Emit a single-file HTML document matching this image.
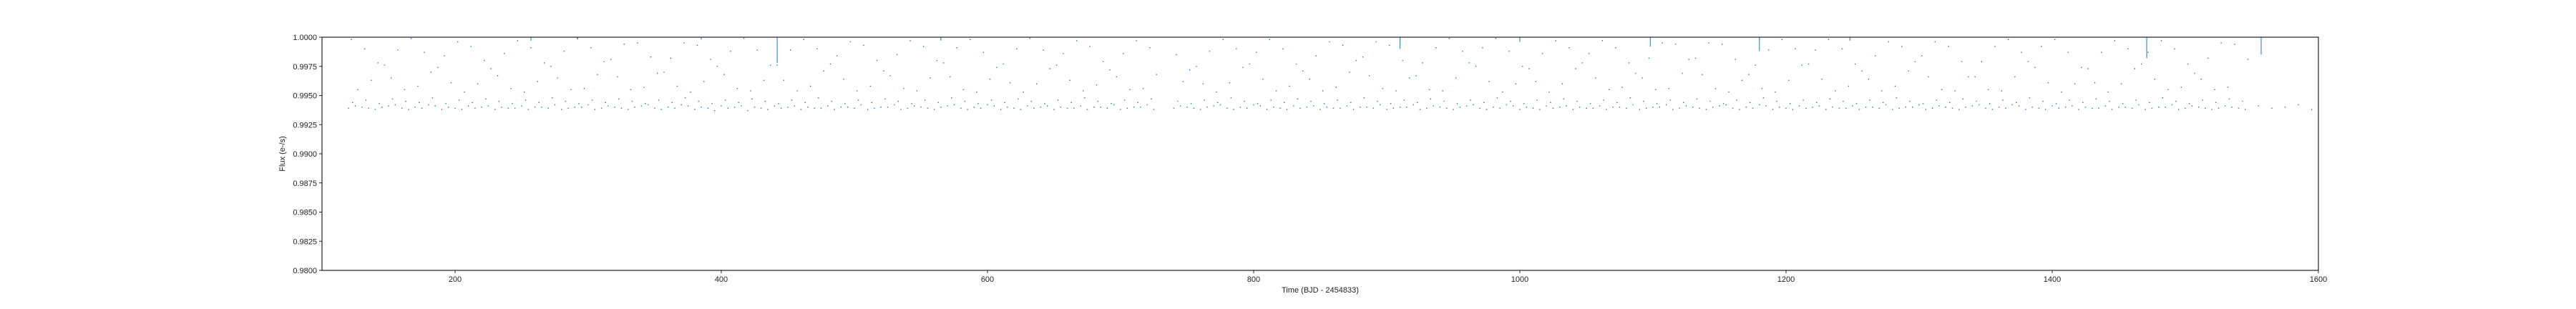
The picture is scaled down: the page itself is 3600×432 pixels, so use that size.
<!DOCTYPE html>
<html><head><meta charset="utf-8">
<style>
html,body{margin:0;padding:0;background:#fff;}
svg{display:block;font-family:"Liberation Sans","DejaVu Sans",sans-serif;}
</style></head>
<body>
<svg id="chart" width="3600" height="432" viewBox="0 0 3600 432" xmlns="http://www.w3.org/2000/svg">
<rect x="0" y="0" width="3600" height="432" fill="#fff"/>
<g id="plot"></g>
<g id="axes"></g>
</svg>
<script>
const xTicks=[200,400,600,800,1000,1200,1400,1600];
const yTicks=[0.98,0.9825,0.985,0.9875,0.99,0.9925,0.995,0.9975,1.0];
const yTickLabels=["0.9800","0.9825","0.9850","0.9875","0.9900","0.9925","0.9950","0.9975","1.0000"];
const times=[120,130,140,150,160,170,180,190,200,210,220,230,240,250,260,270,280,290,300,310,320,330,340,350,360,370,380,390,400,410,420,430,440,450,460,470,480,490,500,510,520,530,540,550,560,570,580,590,600,610,620,630,640,650,660,670,680,690,700,710,720,
740,750,760,770,780,790,800,810,820,830,840,850,860,870,880,890,900,910,920,930,940,950,960,970,980,990,1000,1010,1020,1030,1040,1050,1060,1070,1080,1090,1100,1110,1120,1130,1140,1150,1160,1170,1180,1190,1200,1210,1220,1230,1240,1250,1260,1270,1280,1290,1300,1310,1320,1330,1340,1350,1360,1370,1380,1390,1400,1410,1420,1430,1440,1450,1460,1470,1480,1490,1500,1510,1520,1530,1540,1550,1560,1570,1580,1590];
const bandA=[0.9939,0.9940,0.9938,0.9941,0.9939,0.9940,0.9942,0.9938,0.9939,0.9941,0.9940,0.9938,0.9939,0.9941,0.9940,0.9939,0.9938,0.9940,0.9942,0.9939,0.9940,0.9938,0.9941,0.9939,0.9940,0.9942,0.9938,0.9939,0.9941,0.9940,0.9937,0.9939,0.9941,0.9940,0.9938,0.9939,0.9941,0.9940,0.9939,0.9938,0.9940,0.9942,0.9939,0.9940,0.9938,0.9941,0.9939,0.9940,0.9942,0.9938,0.9939,0.9941,0.9940,0.9938,0.9939,0.9941,0.9940,0.9939,0.9938,0.9940,0.9942,
0.9939,0.9940,0.9938,0.9941,0.9939,0.9940,0.9942,0.9938,0.9939,0.9941,0.9940,0.9938,0.9939,0.9941,0.9940,0.9939,0.9938,0.9940,0.9942,0.9939,0.9940,0.9938,0.9941,0.9939,0.9940,0.9942,0.9938,0.9939,0.9941,0.9940,0.9938,0.9939,0.9941,0.9940,0.9939,0.9938,0.9940,0.9942,0.9939,0.9940,0.9938,0.9941,0.9939,0.9940,0.9942,0.9938,0.9939,0.9941,0.9940,0.9938,0.9939,0.9941,0.9940,0.9939,0.9938,0.9940,0.9942,0.9939,0.9940,0.9938,0.9941,0.9939,0.9940,0.9942,0.9938,0.9939,0.9941,0.9940,0.9938,0.9939,0.9941,0.9940,0.9939,0.9938,0.9940,0.9942,0.9939,0.9940,0.9938,0.9941,0.9939];
const bandB=[0.9944,0.9946,0.9943,0.9947,0.9945,0.9944,0.9948,0.9943,0.9946,0.9944,0.9947,0.9945,0.9943,0.9946,0.9944,0.9948,0.9945,0.9943,0.9946,0.9944,0.9947,0.9945,0.9943,0.9946,0.9944,0.9948,0.9945,0.9943,0.9946,0.9944,0.9947,0.9945,0.9943,0.9946,0.9944,0.9948,0.9945,0.9943,0.9946,0.9944,0.9947,0.9945,0.9943,0.9946,0.9944,0.9948,0.9945,0.9943,0.9946,0.9944,0.9947,0.9945,0.9943,0.9946,0.9944,0.9948,0.9945,0.9943,0.9946,0.9944,0.9947,
0.9945,0.9943,0.9946,0.9944,0.9948,0.9945,0.9943,0.9946,0.9944,0.9947,0.9945,0.9943,0.9946,0.9944,0.9948,0.9945,0.9943,0.9946,0.9944,0.9947,0.9945,0.9943,0.9946,0.9944,0.9948,0.9945,0.9943,0.9946,0.9944,0.9947,0.9945,0.9943,0.9946,0.9944,0.9948,0.9945,0.9943,0.9946,0.9944,0.9947,0.9945,0.9943,0.9946,0.9944,0.9948,0.9945,0.9943,0.9946,0.9944,0.9947,0.9945,0.9943,0.9946,0.9944,0.9948,0.9945,0.9943,0.9946,0.9944,0.9947,0.9945,0.9943,0.9946,0.9944,0.9948,0.9945,0.9943,0.9946,0.9944,0.9947,0.9945,0.9943,0.9946,0.9944,0.9948,0.9945,0.9943,0.9946,0.9944,0.9947,0.9945];
const arcA=[0.9998,0.9990,0.9978,0.9965,0.9955,0.9958,0.9970,0.9984,0.9996,0.9992,0.9980,0.9967,0.9956,0.9953,0.9962,0.9975,0.9988,0.9999,0.9991,0.9979,0.9966,0.9955,0.9957,0.9969,0.9982,0.9995,0.9993,0.9981,0.9968,0.9956,0.9954,0.9963,0.9976,0.9989,0.9998,0.9990,0.9977,0.9964,0.9954,0.9958,0.9971,0.9985,0.9997,0.9992,0.9980,0.9966,0.9955,0.9953,0.9964,0.9977,0.9990,0.9999,0.9989,0.9976,0.9963,0.9954,0.9959,0.9972,0.9986,0.9997,0.9991,
0.9985,0.9972,0.9960,0.9953,0.9961,0.9974,0.9987,0.9998,0.9990,0.9977,0.9964,0.9954,0.9957,0.9970,0.9983,0.9996,0.9993,0.9980,0.9967,0.9955,0.9954,0.9965,0.9978,0.9991,0.9999,0.9988,0.9975,0.9962,0.9953,0.9960,0.9973,0.9986,0.9997,0.9991,0.9978,0.9965,0.9955,0.9956,0.9969,0.9982,0.9995,0.9994,0.9981,0.9968,0.9956,0.9953,0.9963,0.9976,0.9989,0.9998,0.9990,0.9977,0.9964,0.9954,0.9958,0.9971,0.9984,0.9996,0.9992,0.9979,0.9966,0.9955,0.9954,0.9966,0.9979,0.9992,0.9998,0.9987,0.9974,0.9961,0.9953,0.9960,0.9973,0.9987,0.9997,0.9990,0.9977,0.9964,0.9955,0.9957];
const arcB=[0.9955,0.9963,0.9976,0.9989,0.9999,0.9987,0.9974,0.9961,0.9953,0.9960,0.9973,0.9986,0.9997,0.9991,0.9978,0.9965,0.9955,0.9956,0.9968,0.9981,0.9994,0.9995,0.9983,0.9970,0.9958,0.9953,0.9962,0.9975,0.9988,0.9999,0.9989,0.9976,0.9963,0.9954,0.9958,0.9971,0.9984,0.9996,0.9993,0.9980,0.9967,0.9956,0.9954,0.9965,0.9978,0.9991,0.9998,0.9987,0.9974,0.9961,0.9953,0.9960,0.9973,0.9986,0.9997,0.9992,0.9979,0.9966,0.9955,0.9956,0.9968,
0.9962,0.9975,0.9988,0.9998,0.9990,0.9977,0.9964,0.9954,0.9958,0.9971,0.9984,0.9996,0.9993,0.9980,0.9967,0.9956,0.9954,0.9965,0.9978,0.9991,0.9999,0.9988,0.9975,0.9962,0.9953,0.9960,0.9973,0.9986,0.9997,0.9991,0.9978,0.9965,0.9955,0.9957,0.9969,0.9982,0.9995,0.9994,0.9981,0.9968,0.9956,0.9953,0.9963,0.9976,0.9989,0.9998,0.9990,0.9977,0.9964,0.9954,0.9958,0.9971,0.9984,0.9996,0.9992,0.9979,0.9966,0.9955,0.9954,0.9966,0.9979,0.9992,0.9998,0.9987,0.9974,0.9961,0.9953,0.9960,0.9973,0.9987,0.9997,0.9990,0.9977,0.9964,0.9955,0.9957,0.9969,0.9982,0.9995,0.9994,0.9981];
const dipTimes=[257,292,385,442,565,910,1000,1098,1180,1248,1471,1557];
const dipDepths=[0.9997,0.9998,0.9998,0.9978,0.9997,0.9990,0.9996,0.9992,0.9988,0.9997,0.9982,0.9985];

const L=450,R=3240,T=52,B=378;
const xMin=100,xMax=1600,yMin=0.98,yMax=1.0;
function xs(v){return L+(v-xMin)/(xMax-xMin)*(R-L);}
function ys(v){return B-(v-yMin)/(yMax-yMin)*(B-T);}
const NS="http://www.w3.org/2000/svg";
const plot=document.getElementById('plot');
const axes=document.getElementById('axes');
function dot(t,f,name){
  if(typeof f!=='number'||typeof t!=='number')return;
  if(t<xMin||t>xMax)return;
  const r=document.createElementNS(NS,'rect');
  r.setAttribute('x',(xs(t)-0.7).toFixed(1));
  r.setAttribute('y',(ys(f)-0.7).toFixed(1));
  r.setAttribute('width','1.4');r.setAttribute('height','1.4');
  r.setAttribute('fill','#1f77b4');
  
  
  plot.appendChild(r);
}
for(let i=0;i<times.length;i++){
  dot(times[i],bandA[i],'flux-point');
  dot(times[i]+3,bandB[i],'flux-point');
  dot(times[i]+5,bandA[(i+3)%bandA.length],'flux-point');
  dot(times[i]+2,arcA[i],'flux-point');
  dot(times[i]+7,arcB[i],'flux-point');
}
for(let i=0;i<dipTimes.length;i++){
  const ln=document.createElementNS(NS,'line');
  ln.setAttribute('x1',xs(dipTimes[i]));ln.setAttribute('x2',xs(dipTimes[i]));
  ln.setAttribute('y1',ys(1.0));ln.setAttribute('y2',ys(dipDepths[i]));
  ln.setAttribute('stroke','#1f77b4');ln.setAttribute('stroke-width','1');
  
  
  plot.appendChild(ln);
}
const fr=document.createElementNS(NS,'rect');
fr.setAttribute('x',L);fr.setAttribute('y',T);fr.setAttribute('width',R-L);fr.setAttribute('height',B-T);
fr.setAttribute('fill','none');fr.setAttribute('stroke','#222');fr.setAttribute('stroke-width','1.2');


axes.appendChild(fr);
function text(x,y,s,anchor,name,extra){
  const t=document.createElementNS(NS,'text');
  t.setAttribute('x',x);t.setAttribute('y',y);t.setAttribute('text-anchor',anchor);
  t.setAttribute('font-size','11');t.setAttribute('fill','#222');
  if(extra)t.setAttribute('transform',extra);
  t.textContent=s;
  
  
  axes.appendChild(t);return t;
}
xTicks.forEach(v=>{
  const l=document.createElementNS(NS,'line');
  l.setAttribute('x1',xs(v));l.setAttribute('x2',xs(v));l.setAttribute('y1',B);l.setAttribute('y2',B+4);
  l.setAttribute('stroke','#222');
  
  
  axes.appendChild(l);
  text(xs(v),B+16,String(v),'middle','x-tick-label');
});
yTicks.forEach((v,i)=>{
  const l=document.createElementNS(NS,'line');
  l.setAttribute('x1',L-4);l.setAttribute('x2',L);l.setAttribute('y1',ys(v));l.setAttribute('y2',ys(v));
  l.setAttribute('stroke','#222');
  
  
  axes.appendChild(l);
  text(L-7,ys(v)+4,yTickLabels[i],'end','y-tick-label');
});
text((L+R)/2,B+31,'Time (BJD - 2454833)','middle','x-axis-title');
text(398,(T+B)/2,'Flux (e-/s)','middle','y-axis-title','rotate(-90 398 '+((T+B)/2)+')');
</script>
</body></html>
